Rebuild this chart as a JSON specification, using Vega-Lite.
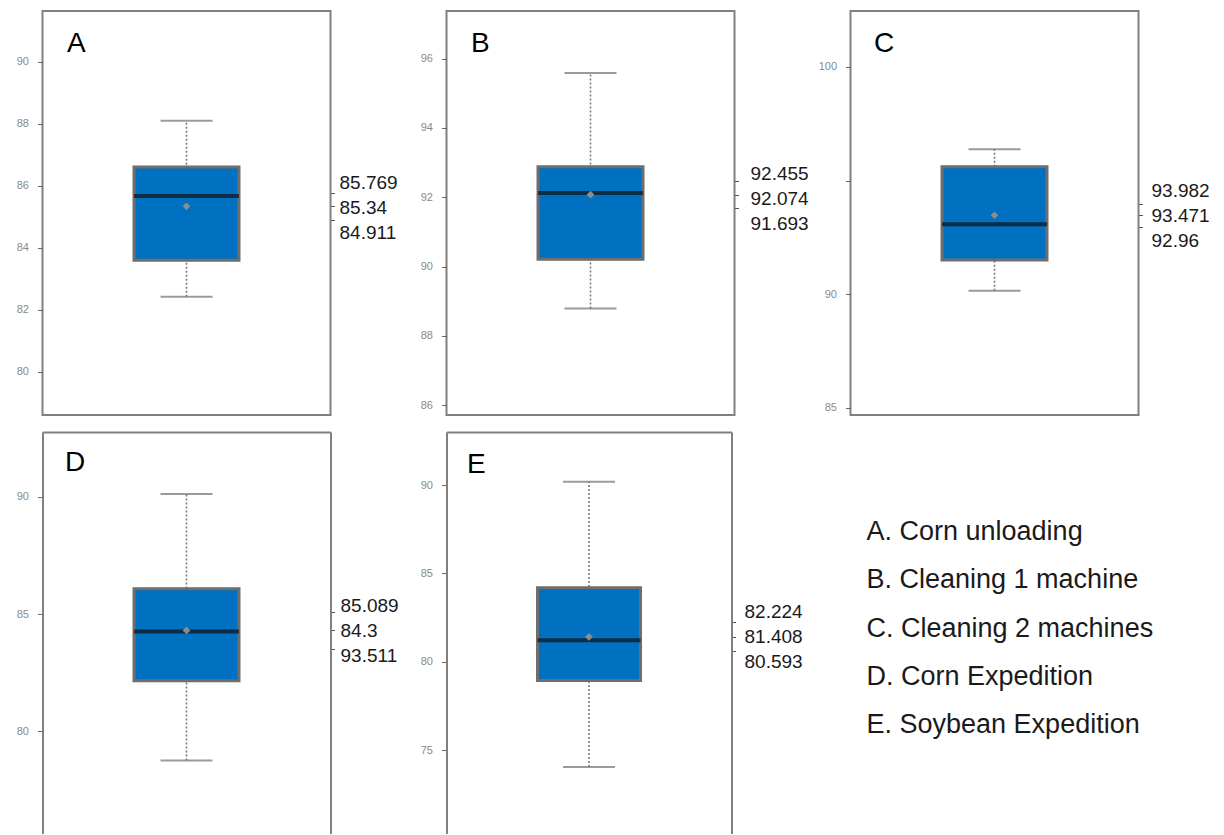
{
  "$schema": "https://vega.github.io/schema/vega-lite/v6.json",
  "padding": {"left": 14.5, "top": 10, "right": 0, "bottom": 0},
  "background": "white",
  "config": {
    "view": {"stroke": "#808080", "strokeWidth": 2},
    "font": "Liberation Sans",
    "axisX": {"orient": "top", "labels": false, "ticks": false, "grid": false, "titleAnchor": "start", "titleAlign": "left", "titleBaseline": "alphabetic", "titleFontSize": 28, "titleFontWeight": "normal", "titleColor": "#000000", "titleFont": "Liberation Sans", "titleY": 40, "domainColor": "#808080", "domainWidth": 2},
    "axisY": {"tickSize": 5, "tickColor": "#666666", "labelColor": "#8a8a8a", "labelFontSize": 11, "labelPadding": 9, "grid": false, "domainColor": "#808080", "domainWidth": 2}
  },
  "datasets": {
    "stats": [
      {"panel": "A", "lower": 82.42, "q1": 83.60, "median": 85.67, "q3": 86.61, "upper": 88.10, "mean": 85.34, "label": "85.769\n85.34\n84.911"},
      {"panel": "B", "lower": 88.79, "q1": 90.21, "median": 92.12, "q3": 92.88, "upper": 95.58, "mean": 92.074, "label": "92.455\n92.074\n91.693"},
      {"panel": "C", "lower": 90.15, "q1": 91.50, "median": 93.08, "q3": 95.60, "upper": 96.38, "mean": 93.471, "label": "93.982\n93.471\n92.96"},
      {"panel": "D", "lower": 78.75, "q1": 82.15, "median": 84.25, "q3": 86.08, "upper": 90.12, "mean": 84.3, "label": "85.089\n84.3\n93.511"},
      {"panel": "E", "lower": 74.04, "q1": 78.94, "median": 81.21, "q3": 84.19, "upper": 90.19, "mean": 81.408, "label": "82.224\n81.408\n80.593"}
    ],
    "legend": [
      {"item": "A. Corn unloading"},
      {"item": "B. Cleaning 1 machine"},
      {"item": "C. Cleaning 2 machines"},
      {"item": "D. Corn Expedition"},
      {"item": "E. Soybean Expedition"}
    ]
  },
  "bounds": "flush",
  "columns": 3,
  "spacing": {"row": 17, "column": 116},
  "concat": [
    {
      "width": 288, "height": 404,
      "data": {"name": "stats"},
      "transform": [{"filter": "datum.panel == 'A'"}],
      "encoding": {"x": {"field": "panel", "type": "nominal", "axis": {"title": "A", "titleX": 24, "domain": false}}},
      "layer": [
        {"mark": {"type": "rule", "color": "#707070", "strokeWidth": 1.5, "strokeDash": [2, 2]},
         "encoding": {"y": {"field": "lower", "type": "quantitative", "scale": {"domain": [78.61, 91.64], "nice": false, "zero": false},
           "axis": {"values": [80, 82, 84, 86, 88, 90], "domain": false, "title": null}},
           "y2": {"field": "upper"}}},
        {"mark": {"type": "tick", "size": 52, "thickness": 2, "color": "#707070"},
         "encoding": {"y": {"field": "lower", "type": "quantitative", "scale": {"domain": [78.61, 91.64], "nice": false, "zero": false}, "axis": null}}},
        {"mark": {"type": "tick", "size": 52, "thickness": 2, "color": "#707070"},
         "encoding": {"y": {"field": "upper", "type": "quantitative", "scale": {"domain": [78.61, 91.64], "nice": false, "zero": false}, "axis": null}}},
        {"mark": {"type": "bar", "size": 105, "fill": "#0070c0", "stroke": "#6e6e6e", "strokeWidth": 3},
         "encoding": {"y": {"field": "q1", "type": "quantitative", "scale": {"domain": [78.61, 91.64], "nice": false, "zero": false}, "axis": null}, "y2": {"field": "q3"}}},
        {"mark": {"type": "tick", "size": 105, "thickness": 4, "color": "#111111"},
         "encoding": {"y": {"field": "median", "type": "quantitative", "scale": {"domain": [78.61, 91.64], "nice": false, "zero": false}, "axis": null}}},
        {"mark": {"type": "point", "shape": "diamond", "size": 60, "filled": true, "color": "#8c8c8c", "opacity": 1},
         "encoding": {"y": {"field": "mean", "type": "quantitative", "scale": {"domain": [78.61, 91.64], "nice": false, "zero": false}, "axis": null}}},
        {"mark": {"type": "text", "align": "left", "baseline": "middle", "dx": 9, "dy": -23, "lineBreak": "\n", "lineHeight": 25, "fontSize": 19, "font": "Liberation Sans", "color": "#1a1a1a"},
         "encoding": {"x": {"value": "width"},
           "y": {"field": "mean", "type": "quantitative", "scale": {"domain": [78.61, 91.64], "nice": false, "zero": false},
             "axis": {"orient": "right", "values": [85.769, 85.34, 84.911], "labels": false, "tickSize": 4, "tickColor": "#555555", "domain": false, "title": null}},
           "text": {"field": "label"}}}
      ],
      "resolve": {"axis": {"y": "independent"}}
    },
    {
      "width": 288, "height": 404,
      "data": {"name": "stats"},
      "transform": [{"filter": "datum.panel == 'B'"}],
      "encoding": {"x": {"field": "panel", "type": "nominal", "axis": {"title": "B", "titleX": 24, "domain": false}}},
      "layer": [
        {"mark": {"type": "rule", "color": "#707070", "strokeWidth": 1.5, "strokeDash": [2, 2]},
         "encoding": {"y": {"field": "lower", "type": "quantitative", "scale": {"domain": [85.72, 97.37], "nice": false, "zero": false},
           "axis": {"values": [86, 88, 90, 92, 94, 96], "domain": false, "title": null}},
           "y2": {"field": "upper"}}},
        {"mark": {"type": "tick", "size": 52, "thickness": 2, "color": "#707070"},
         "encoding": {"y": {"field": "lower", "type": "quantitative", "scale": {"domain": [85.72, 97.37], "nice": false, "zero": false}, "axis": null}}},
        {"mark": {"type": "tick", "size": 52, "thickness": 2, "color": "#707070"},
         "encoding": {"y": {"field": "upper", "type": "quantitative", "scale": {"domain": [85.72, 97.37], "nice": false, "zero": false}, "axis": null}}},
        {"mark": {"type": "bar", "size": 105, "fill": "#0070c0", "stroke": "#6e6e6e", "strokeWidth": 3},
         "encoding": {"y": {"field": "q1", "type": "quantitative", "scale": {"domain": [85.72, 97.37], "nice": false, "zero": false}, "axis": null}, "y2": {"field": "q3"}}},
        {"mark": {"type": "tick", "size": 105, "thickness": 4, "color": "#111111"},
         "encoding": {"y": {"field": "median", "type": "quantitative", "scale": {"domain": [85.72, 97.37], "nice": false, "zero": false}, "axis": null}}},
        {"mark": {"type": "point", "shape": "diamond", "size": 60, "filled": true, "color": "#8c8c8c", "opacity": 1},
         "encoding": {"y": {"field": "mean", "type": "quantitative", "scale": {"domain": [85.72, 97.37], "nice": false, "zero": false}, "axis": null}}},
        {"mark": {"type": "text", "align": "left", "baseline": "middle", "dx": 16, "dy": -21, "lineBreak": "\n", "lineHeight": 25, "fontSize": 19, "font": "Liberation Sans", "color": "#1a1a1a"},
         "encoding": {"x": {"value": "width"},
           "y": {"field": "mean", "type": "quantitative", "scale": {"domain": [85.72, 97.37], "nice": false, "zero": false},
             "axis": {"orient": "right", "values": [92.455, 92.074, 91.693], "labels": false, "tickSize": 4, "tickColor": "#555555", "domain": false, "title": null}},
           "text": {"field": "label"}}}
      ],
      "resolve": {"axis": {"y": "independent"}}
    },
    {
      "width": 288, "height": 404,
      "data": {"name": "stats"},
      "transform": [{"filter": "datum.panel == 'C'"}],
      "encoding": {"x": {"field": "panel", "type": "nominal", "axis": {"title": "C", "titleX": 23, "domain": false}}},
      "layer": [
        {"mark": {"type": "rule", "color": "#707070", "strokeWidth": 1.5, "strokeDash": [2, 2]},
         "encoding": {"y": {"field": "lower", "type": "quantitative", "scale": {"domain": [84.68, 102.46], "nice": false, "zero": false},
           "axis": {"values": [85, 90, 95, 100], "labelExpr": "datum.value == 95 ? '' : datum.label", "domain": false, "title": null}},
           "y2": {"field": "upper"}}},
        {"mark": {"type": "tick", "size": 52, "thickness": 2, "color": "#707070"},
         "encoding": {"y": {"field": "lower", "type": "quantitative", "scale": {"domain": [84.68, 102.46], "nice": false, "zero": false}, "axis": null}}},
        {"mark": {"type": "tick", "size": 52, "thickness": 2, "color": "#707070"},
         "encoding": {"y": {"field": "upper", "type": "quantitative", "scale": {"domain": [84.68, 102.46], "nice": false, "zero": false}, "axis": null}}},
        {"mark": {"type": "bar", "size": 105, "fill": "#0070c0", "stroke": "#6e6e6e", "strokeWidth": 3},
         "encoding": {"y": {"field": "q1", "type": "quantitative", "scale": {"domain": [84.68, 102.46], "nice": false, "zero": false}, "axis": null}, "y2": {"field": "q3"}}},
        {"mark": {"type": "tick", "size": 105, "thickness": 4, "color": "#111111"},
         "encoding": {"y": {"field": "median", "type": "quantitative", "scale": {"domain": [84.68, 102.46], "nice": false, "zero": false}, "axis": null}}},
        {"mark": {"type": "point", "shape": "diamond", "size": 60, "filled": true, "color": "#8c8c8c", "opacity": 1},
         "encoding": {"y": {"field": "mean", "type": "quantitative", "scale": {"domain": [84.68, 102.46], "nice": false, "zero": false}, "axis": null}}},
        {"mark": {"type": "text", "align": "left", "baseline": "middle", "dx": 13, "dy": -24, "lineBreak": "\n", "lineHeight": 25, "fontSize": 19, "font": "Liberation Sans", "color": "#1a1a1a"},
         "encoding": {"x": {"value": "width"},
           "y": {"field": "mean", "type": "quantitative", "scale": {"domain": [84.68, 102.46], "nice": false, "zero": false},
             "axis": {"orient": "right", "values": [93.982, 93.471, 92.96], "labels": false, "tickSize": 4, "tickColor": "#555555", "domain": false, "title": null}},
           "text": {"field": "label"}}}
      ],
      "resolve": {"axis": {"y": "independent"}}
    },
    {
      "width": 288, "height": 402,
      "view": {"stroke": null},
      "data": {"name": "stats"},
      "transform": [{"filter": "datum.panel == 'D'"}],
      "encoding": {"x": {"field": "panel", "type": "nominal", "axis": {"title": "D", "titleX": 22, "titleY": 38, "domain": true}}},
      "layer": [
        {"mark": {"type": "rule", "color": "#707070", "strokeWidth": 1.5, "strokeDash": [2, 2]},
         "encoding": {"y": {"field": "lower", "type": "quantitative", "scale": {"domain": [75.61, 92.77], "nice": false, "zero": false},
           "axis": {"values": [80, 85, 90], "domain": true, "title": null}},
           "y2": {"field": "upper"}}},
        {"mark": {"type": "tick", "size": 52, "thickness": 2, "color": "#707070"},
         "encoding": {"y": {"field": "lower", "type": "quantitative", "scale": {"domain": [75.61, 92.77], "nice": false, "zero": false}, "axis": null}}},
        {"mark": {"type": "tick", "size": 52, "thickness": 2, "color": "#707070"},
         "encoding": {"y": {"field": "upper", "type": "quantitative", "scale": {"domain": [75.61, 92.77], "nice": false, "zero": false}, "axis": null}}},
        {"mark": {"type": "bar", "size": 105, "fill": "#0070c0", "stroke": "#6e6e6e", "strokeWidth": 3},
         "encoding": {"y": {"field": "q1", "type": "quantitative", "scale": {"domain": [75.61, 92.77], "nice": false, "zero": false}, "axis": null}, "y2": {"field": "q3"}}},
        {"mark": {"type": "tick", "size": 105, "thickness": 4, "color": "#111111"},
         "encoding": {"y": {"field": "median", "type": "quantitative", "scale": {"domain": [75.61, 92.77], "nice": false, "zero": false}, "axis": null}}},
        {"mark": {"type": "point", "shape": "diamond", "size": 60, "filled": true, "color": "#8c8c8c", "opacity": 1},
         "encoding": {"y": {"field": "mean", "type": "quantitative", "scale": {"domain": [75.61, 92.77], "nice": false, "zero": false}, "axis": null}}},
        {"mark": {"type": "text", "align": "left", "baseline": "middle", "dx": 10, "dy": -24, "lineBreak": "\n", "lineHeight": 25, "fontSize": 19, "font": "Liberation Sans", "color": "#1a1a1a"},
         "encoding": {"x": {"value": "width"},
           "y": {"field": "mean", "type": "quantitative", "scale": {"domain": [75.61, 92.77], "nice": false, "zero": false},
             "axis": {"orient": "right", "values": [85.089, 84.3, 83.511], "labels": false, "tickSize": 4, "tickColor": "#555555", "domain": true, "title": null}},
           "text": {"field": "label"}}}
      ],
      "resolve": {"axis": {"y": "independent"}}
    },
    {
      "width": 285, "height": 402,
      "view": {"stroke": null},
      "data": {"name": "stats"},
      "transform": [{"filter": "datum.panel == 'E'"}],
      "encoding": {"x": {"field": "panel", "type": "nominal", "axis": {"title": "E", "titleX": 20, "titleY": 40, "domain": true}}},
      "layer": [
        {"mark": {"type": "rule", "color": "#707070", "strokeWidth": 1.5, "strokeDash": [2, 2]},
         "encoding": {"y": {"field": "lower", "type": "quantitative", "scale": {"domain": [70.25, 93.0], "nice": false, "zero": false},
           "axis": {"values": [75, 80, 85, 90], "domain": true, "title": null}},
           "y2": {"field": "upper"}}},
        {"mark": {"type": "tick", "size": 52, "thickness": 2, "color": "#707070"},
         "encoding": {"y": {"field": "lower", "type": "quantitative", "scale": {"domain": [70.25, 93.0], "nice": false, "zero": false}, "axis": null}}},
        {"mark": {"type": "tick", "size": 52, "thickness": 2, "color": "#707070"},
         "encoding": {"y": {"field": "upper", "type": "quantitative", "scale": {"domain": [70.25, 93.0], "nice": false, "zero": false}, "axis": null}}},
        {"mark": {"type": "bar", "size": 103, "fill": "#0070c0", "stroke": "#6e6e6e", "strokeWidth": 3},
         "encoding": {"y": {"field": "q1", "type": "quantitative", "scale": {"domain": [70.25, 93.0], "nice": false, "zero": false}, "axis": null}, "y2": {"field": "q3"}}},
        {"mark": {"type": "tick", "size": 103, "thickness": 4, "color": "#111111"},
         "encoding": {"y": {"field": "median", "type": "quantitative", "scale": {"domain": [70.25, 93.0], "nice": false, "zero": false}, "axis": null}}},
        {"mark": {"type": "point", "shape": "diamond", "size": 60, "filled": true, "color": "#8c8c8c", "opacity": 1},
         "encoding": {"y": {"field": "mean", "type": "quantitative", "scale": {"domain": [70.25, 93.0], "nice": false, "zero": false}, "axis": null}}},
        {"mark": {"type": "text", "align": "left", "baseline": "middle", "dx": 13, "dy": -25, "lineBreak": "\n", "lineHeight": 25, "fontSize": 19, "font": "Liberation Sans", "color": "#1a1a1a"},
         "encoding": {"x": {"value": "width"},
           "y": {"field": "mean", "type": "quantitative", "scale": {"domain": [70.25, 93.0], "nice": false, "zero": false},
             "axis": {"orient": "right", "values": [82.224, 81.408, 80.593], "labels": false, "tickSize": 4, "tickColor": "#555555", "domain": true, "title": null}},
           "text": {"field": "label"}}}
      ],
      "resolve": {"axis": {"y": "independent"}}
    },
    {
      "width": 288, "height": 402,
      "view": {"stroke": null},
      "data": {"name": "legend"},
      "mark": {"type": "text", "align": "left", "baseline": "middle", "dx": 16, "fontSize": 27, "font": "Liberation Sans", "color": "#1a1a1a"},
      "encoding": {
        "x": {"value": 0},
        "y": {"field": "item", "type": "nominal", "sort": null, "axis": null, "scale": {"type": "point", "range": [100, 293], "padding": 0}},
        "text": {"field": "item"}
      }
    }
  ]
}
